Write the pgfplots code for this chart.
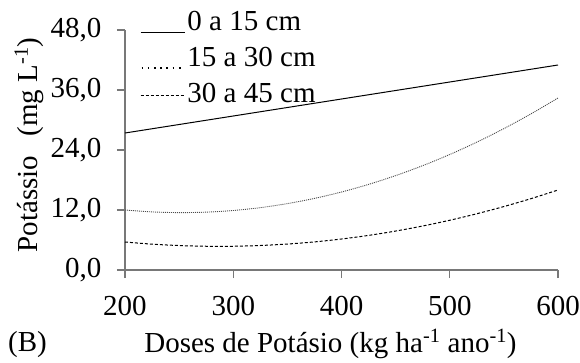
\documentclass[border=0pt]{standalone}
\usepackage{fontspec}
\setmainfont{Liberation Serif}
\usepackage{pgfplots}
\pgfplotsset{compat=1.18}
\newcommand\f{\fontsize{29}{34}\selectfont}
\definecolor{axgray}{RGB}{120,120,120}
\pgfplotsset{
  legA/.style={legend image code/.code={\draw[##1] (0pt,-9pt) -- (44pt,-9pt);}},
  legB/.style={legend image code/.code={\draw[##1, black, line width=1.6pt, dash pattern=on 1.6pt off 4.6pt] (1pt,-8pt) -- (44pt,-8pt);}},
  legC/.style={legend image code/.code={\draw[##1] (0pt,0pt) -- (44pt,0pt);}},
}
\begin{document}
\begin{tikzpicture}
\path[use as bounding box] (-125pt,-92pt) rectangle (455pt,270pt);
\begin{axis}[
  scale only axis, width=433pt, height=240pt,
  xmin=200, xmax=600, ymin=0, ymax=48,
  axis x line*=bottom, axis y line*=left,
  axis line style={axgray, line width=1.2pt, -},
  xtick={200,300,400,500,600},
  ytick={0,12,24,36,48},
  tick align=outside, major tick length=8pt,
  tick style={axgray, line width=1.2pt},
  /pgf/number format/assume math mode=true,
  y tick label style={font=\f, xshift=-12pt, /pgf/number format/.cd, fixed, fixed zerofill, precision=1, use comma, assume math mode=true},
  x tick label style={font=\f, yshift=-15pt, /pgf/number format/.cd, assume math mode=true},
  xlabel={Doses de Potásio (kg ha\textsuperscript{-1} ano\textsuperscript{-1})},
  ylabel={Potássio\ \ \,(mg L\textsuperscript{-1})},
  xlabel style={font=\f, at={(axis description cs:0.5,0)}, anchor=base, yshift=-82pt, xshift=-11pt},
  ylabel style={font=\f, at={(axis description cs:-0.2032,0.5208)}, anchor=base},
  legend style={font=\f, draw=none, fill=none, at={(axis description cs:0,1)}, anchor=north west, xshift=15pt, yshift=22pt, inner sep=0pt, row sep=5pt, nodes={inner sep=2pt, text height=20pt, text depth=7pt}},
  legend cell align=left,
  clip=false,
]
\addplot[black, line width=1pt, legA] coordinates {(200,27.4) (600,41.0)};
\addlegendentry{0 a 15 cm}
\addplot[black!70, line width=0.9pt, dash pattern=on 1pt off 1pt, smooth, legB] coordinates {
(200,12.0) (225,11.62) (250,11.48) (275,11.57) (300,11.9) (325,12.47) (350,13.28) (375,14.32)
(400,15.6) (425,17.12) (450,18.88) (475,20.87) (500,23.1) (525,25.57) (550,28.28) (575,31.22) (600,34.4)};
\addlegendentry{15 a 30 cm}
\addplot[black, line width=1pt, dash pattern=on 3pt off 2pt, smooth, legC] coordinates {
(200,5.6) (225,5.17) (250,4.89) (275,4.75) (300,4.75) (325,4.90) (350,5.19) (375,5.62)
(400,6.2) (425,6.92) (450,7.79) (475,8.80) (500,9.95) (525,11.25) (550,12.69) (575,14.27) (600,16.0)};
\addlegendentry{30 a 45 cm}
\node[font=\f, anchor=base west, inner sep=0pt] at (axis description cs:0,0) [xshift=-117pt, yshift=-81pt] {(B)};
\end{axis}
\end{tikzpicture}
\end{document}
